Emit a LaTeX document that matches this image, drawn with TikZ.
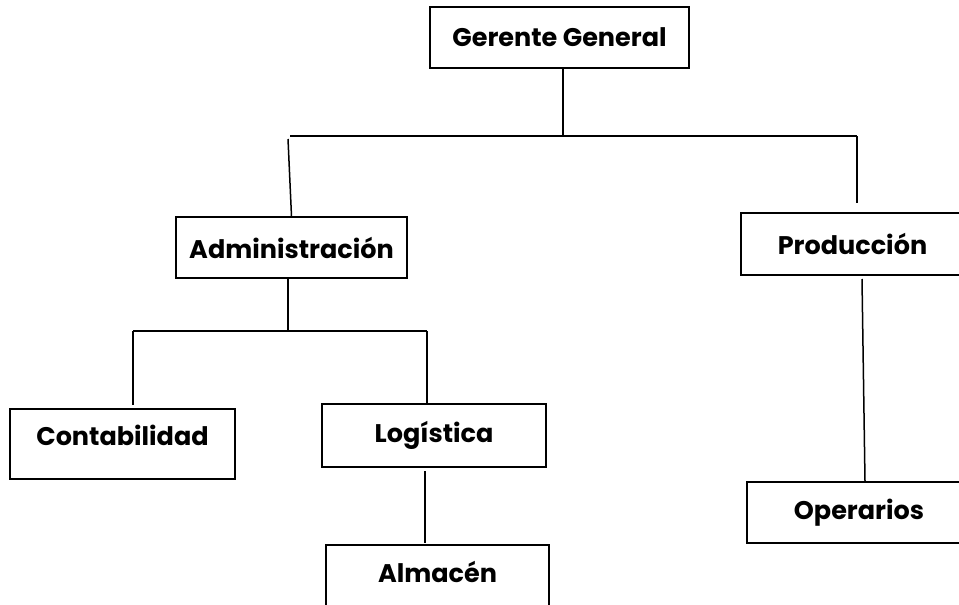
\documentclass[tikz,border=0pt]{standalone}
\usepackage{fontspec}
\setmainfont{Poppins}
\begin{document}
\begin{tikzpicture}[x=1pt,y=-1pt,
  box/.style={draw=black,line width=1.6pt,rectangle,inner sep=0pt,
    font=\fontsize{25.5}{30}\selectfont\bfseries,text=black},
  conn/.style={draw=black,line width=1.5pt}]
\useasboundingbox (0,0) rectangle (959,605);
\fill[white] (0,0) rectangle (959,605);
% boxes
\node[box,minimum width=259pt,minimum height=61pt] (gg)   at (559.5,37.5) {Gerente General};
\node[box,minimum width=231pt,minimum height=61pt] (adm)  at (291.5,247.5) {Administración};
\node[box,minimum width=223pt,minimum height=62pt] (prod) at (852.5,244) {Producción};
\node[box,minimum width=225pt,minimum height=70pt,text depth=17pt] (cont) at (122.5,444) {Contabilidad};
\node[box,minimum width=224pt,minimum height=63pt] (log)  at (434,435.5) {Logística};
\node[box,minimum width=224pt,minimum height=61pt] (op)   at (859,512.5) {Operarios};
\node[box,minimum width=223pt,minimum height=64pt,text depth=11pt] (alm)  at (437.5,577) {Almacén};
% junctions
\coordinate (j1) at (563,136);
\coordinate (jl) at (290,136);
\coordinate (jr) at (857,136);
\coordinate (jadm) at (288,139);
\coordinate (jprod) at (857,203);
\coordinate (j2) at (288,331);
\coordinate (jc) at (133,331);
\coordinate (jg) at (427,331);
\coordinate (jcont) at (133,405);
\coordinate (jlog1) at (425,471);
\coordinate (jalm) at (425,543);
\coordinate (jp1) at (862,279);
\coordinate (jop) at (865,481);
% connectors
\draw[conn] (gg.south -| j1) -- (j1);
\draw[conn] (jl) -- (jr);
\draw[conn] (jadm) -- (adm.north);
\draw[conn] (jr) -- (jprod);
\draw[conn] (adm.south -| j2) -- (j2);
\draw[conn] (jc) -- (jg);
\draw[conn] (jc) -- (jcont);
\draw[conn] (jg) -- (log.north -| jg);
\draw[conn] (jlog1) -- (jalm);
\draw[conn] (jp1) -- (jop);
\end{tikzpicture}
\end{document}
